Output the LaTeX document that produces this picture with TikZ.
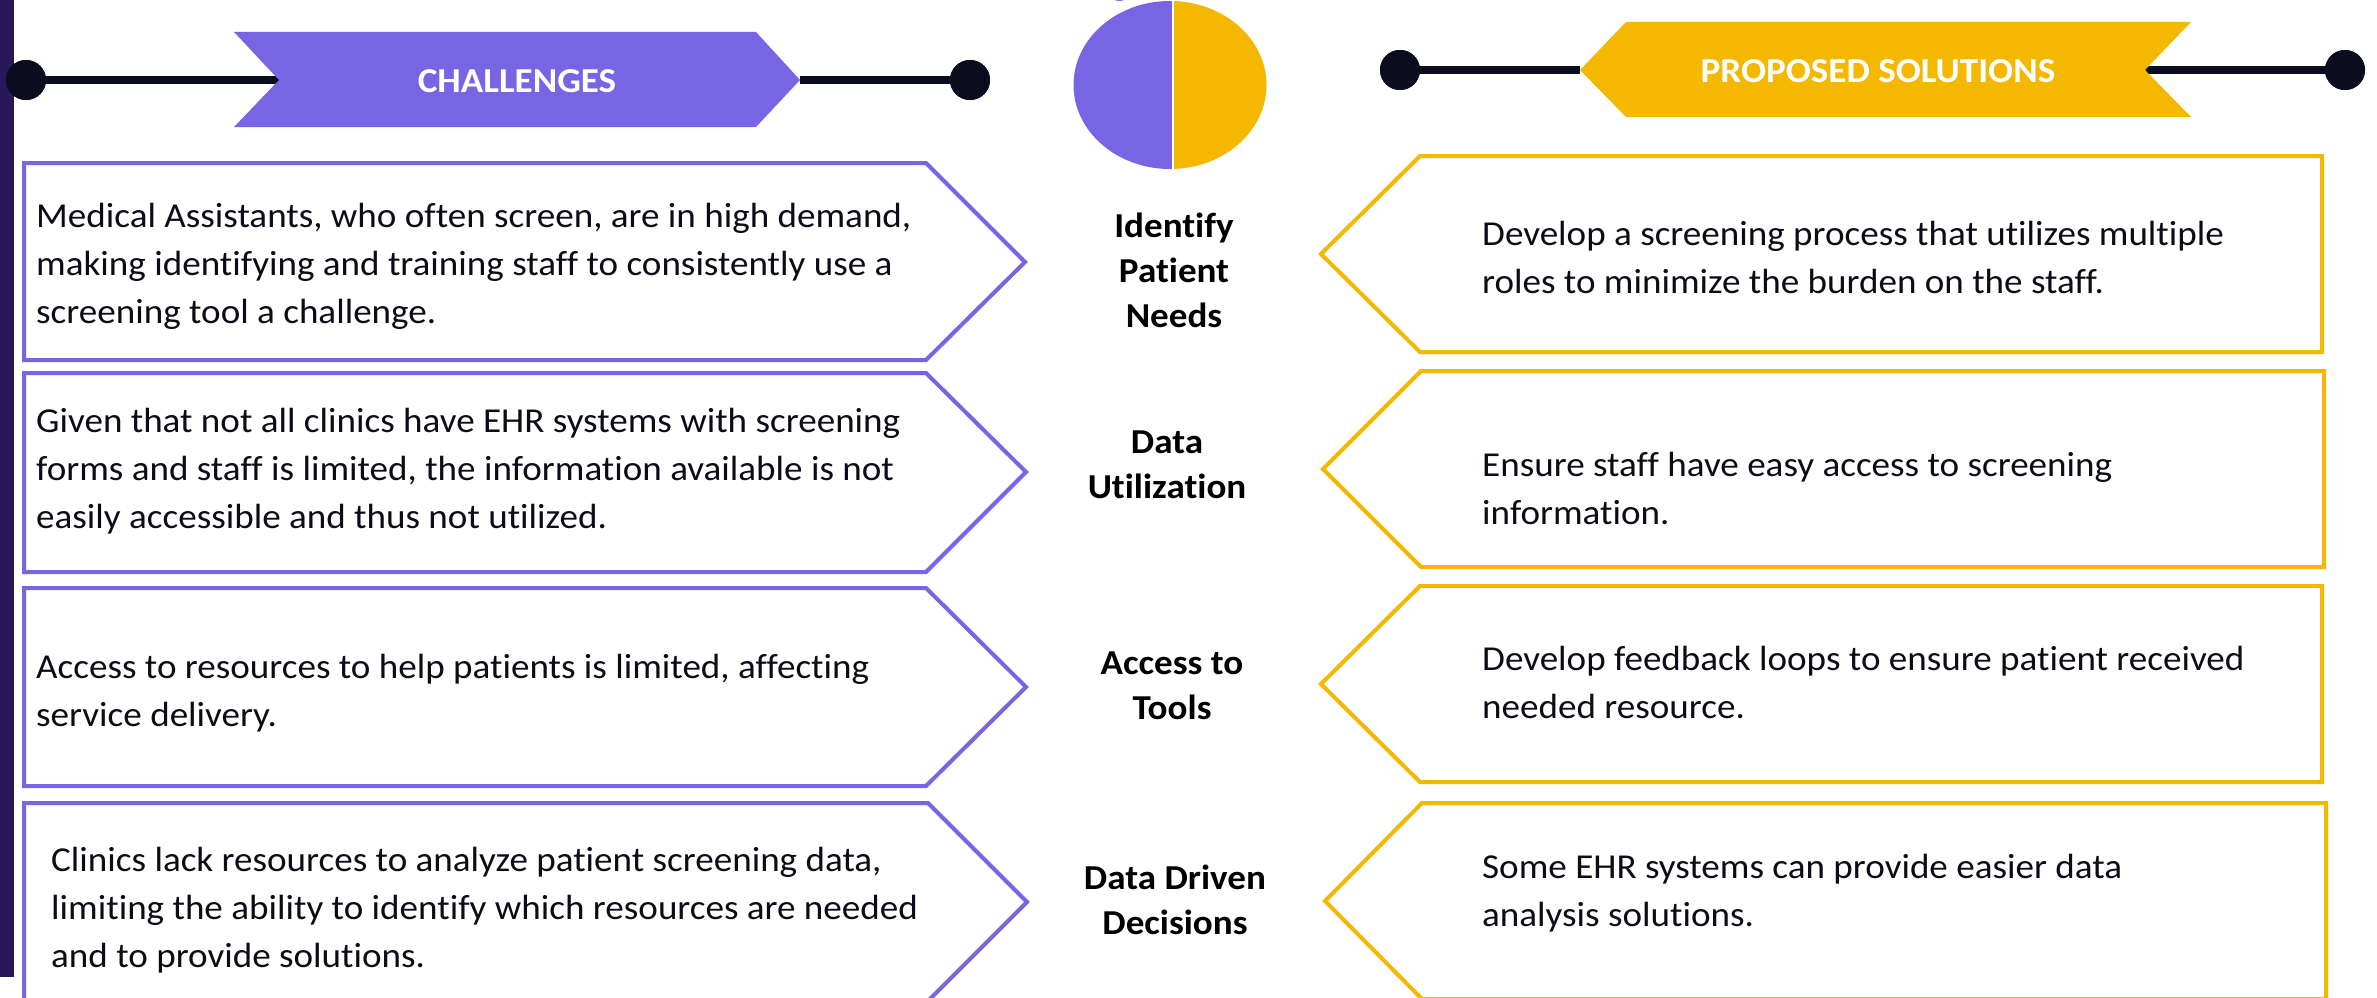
\documentclass[tikz,border=0pt]{standalone}
\usepackage{fontspec}
\setmainfont{Carlito}[FakeStretch=1.06,Ligatures=NoCommon]
\definecolor{chalPurple}{RGB}{119,101,227}
\definecolor{solGold}{RGB}{245,184,0}
\definecolor{barInk}{RGB}{41,23,90}
\definecolor{lineInk}{RGB}{11,12,30}
\definecolor{bodyInk}{RGB}{12,12,24}
\begin{document}
\begin{tikzpicture}[x=1pt,y=-1pt,
  link/.style={draw=lineInk,line width=8pt},
  dot/.style={circle,fill=lineInk,minimum size=40pt,inner sep=0pt},
  chalbox/.style={draw=chalPurple,line width=4pt,line join=miter,fill=white},
  solbox/.style={draw=solGold,line width=4pt,line join=miter,fill=white},
  body/.style={font=\fontsize{35}{48}\selectfont,text=bodyInk,align=left,inner sep=0pt,anchor=west},
  topic/.style={font=\fontsize{35}{45}\selectfont\bfseries,text=black,align=center,inner sep=0pt},
  bannertext/.style={font=\fontsize{35}{40}\selectfont\bfseries,text=white,inner sep=0pt}]
\useasboundingbox (0,0) rectangle (2377,998);
\fill[white] (0,0) rectangle (2377,998);

% dark edge strip on the left
\fill[barInk] (0,0) rectangle (14,977);

% heading fragment above the pie
\node[font=\fontsize{35}{35}\selectfont\bfseries,text=chalPurple,anchor=base,inner sep=0pt] (ttl) at (1120,-4) {g};

% ---- challenges header ----
\coordinate (chalL) at (279,80);
\coordinate (chalR) at (800,80);
\node[dot] (cdotL) at (26,80) {};
\node[dot] (cdotR) at (970,80) {};
\draw[link] (cdotL.center) -- (chalL);
\draw[link] (chalR) -- (cdotR.center);
\fill[chalPurple] (234,32) -- (756,32) -- (chalR) -- (756,127) -- (234,127) -- (chalL) -- cycle;
\node[dot] at (cdotL) {};
\node[dot] at (cdotR) {};
\node[bannertext] (chal) at (517,81) {CHALLENGES};

% ---- solutions header ----
\coordinate (solL) at (1580,70);
\coordinate (solR) at (2145,70);
\node[dot] (sdotL) at (1400,70) {};
\node[dot] (sdotR) at (2345,70) {};
\draw[link] (sdotL.center) -- (solL);
\draw[link] (solR) -- (sdotR.center);
\fill[solGold] (1626,22) -- (2191,22) -- (solR) -- (2191,117) -- (1626,117) -- (solL) -- cycle;
\node[dot] at (sdotL) {};
\node[dot] at (sdotR) {};
\node[bannertext] (sol) at (1878,71) {PROPOSED SOLUTIONS};

% ---- split pie ----
\begin{scope}
  \clip (1060,-5) rectangle (1173,200);
  \fill[chalPurple] (1170,85) ellipse [x radius=96.5pt, y radius=84pt];
\end{scope}
\begin{scope}
  \clip (1173,-5) rectangle (1290,200);
  \fill[solGold] (1170,85) ellipse [x radius=96.5pt, y radius=84pt];
\end{scope}
\draw[white,line width=1.5pt] (1173,0) -- (1173,170);

% ---- challenge arrows ----
\draw[chalbox] (24,163) -- (926,163) -- (1025,262) -- (926,360) -- (24,360) -- cycle;
\draw[chalbox] (24,373) -- (926,373) -- (1026,472) -- (926,572) -- (24,572) -- cycle;
\draw[chalbox] (24,588) -- (926,588) -- (1026,687) -- (926,786) -- (24,786) -- cycle;
\draw[chalbox] (24,803) -- (928,803) -- (1027,902) -- (928,1001) -- (24,1001) -- cycle;

\node[body] (c1) at (36,266) {Medical Assistants, who often screen, are in high demand,\\making identifying and training staff to consistently use a\\screening tool a challenge.};
\node[body] (c2) at (36,471) {Given that not all clinics have EHR systems with screening\\forms and staff is limited, the information available is not\\easily accessible and thus not utilized.};
\node[body] (c3) at (36,693) {Access to resources to help patients is limited, affecting\\service delivery.};
\node[body] (c4) at (51,910) {Clinics lack resources to analyze patient screening data,\\limiting the ability to identify which resources are needed\\and to provide solutions.};

% ---- topics ----
\node[topic] (t1) at (1174,270) {Identify\\Patient\\Needs};
\node[topic] (t2) at (1167,465) {Data\\Utilization};
\node[topic] (t3) at (1172,686) {Access to\\Tools};
\node[topic] (t4) at (1175,900) {Data Driven\\Decisions};

% ---- solution arrows ----
\draw[solbox] (1420,156) -- (2322,156) -- (2322,352) -- (1420,352) -- (1321,254) -- cycle;
\draw[solbox] (1421,371) -- (2324,371) -- (2324,567) -- (1421,567) -- (1323,469) -- cycle;
\draw[solbox] (1420,586) -- (2322,586) -- (2322,782) -- (1420,782) -- (1321,684) -- cycle;
\draw[solbox] (1422,803) -- (2326,803) -- (2326,999) -- (1422,999) -- (1325,901) -- cycle;

\node[body] (s1) at (1482,257) {Develop a screening process that utilizes multiple\\roles to minimize the burden on the staff.};
\node[body] (s2) at (1482,488) {Ensure staff have easy access to screening\\information.};
\node[body] (s3) at (1482,682) {Develop feedback loops to ensure patient received\\needed resource.};
\node[body] (s4) at (1482,893) {Some EHR systems can provide easier data\\analysis solutions.};
\end{tikzpicture}
\end{document}
